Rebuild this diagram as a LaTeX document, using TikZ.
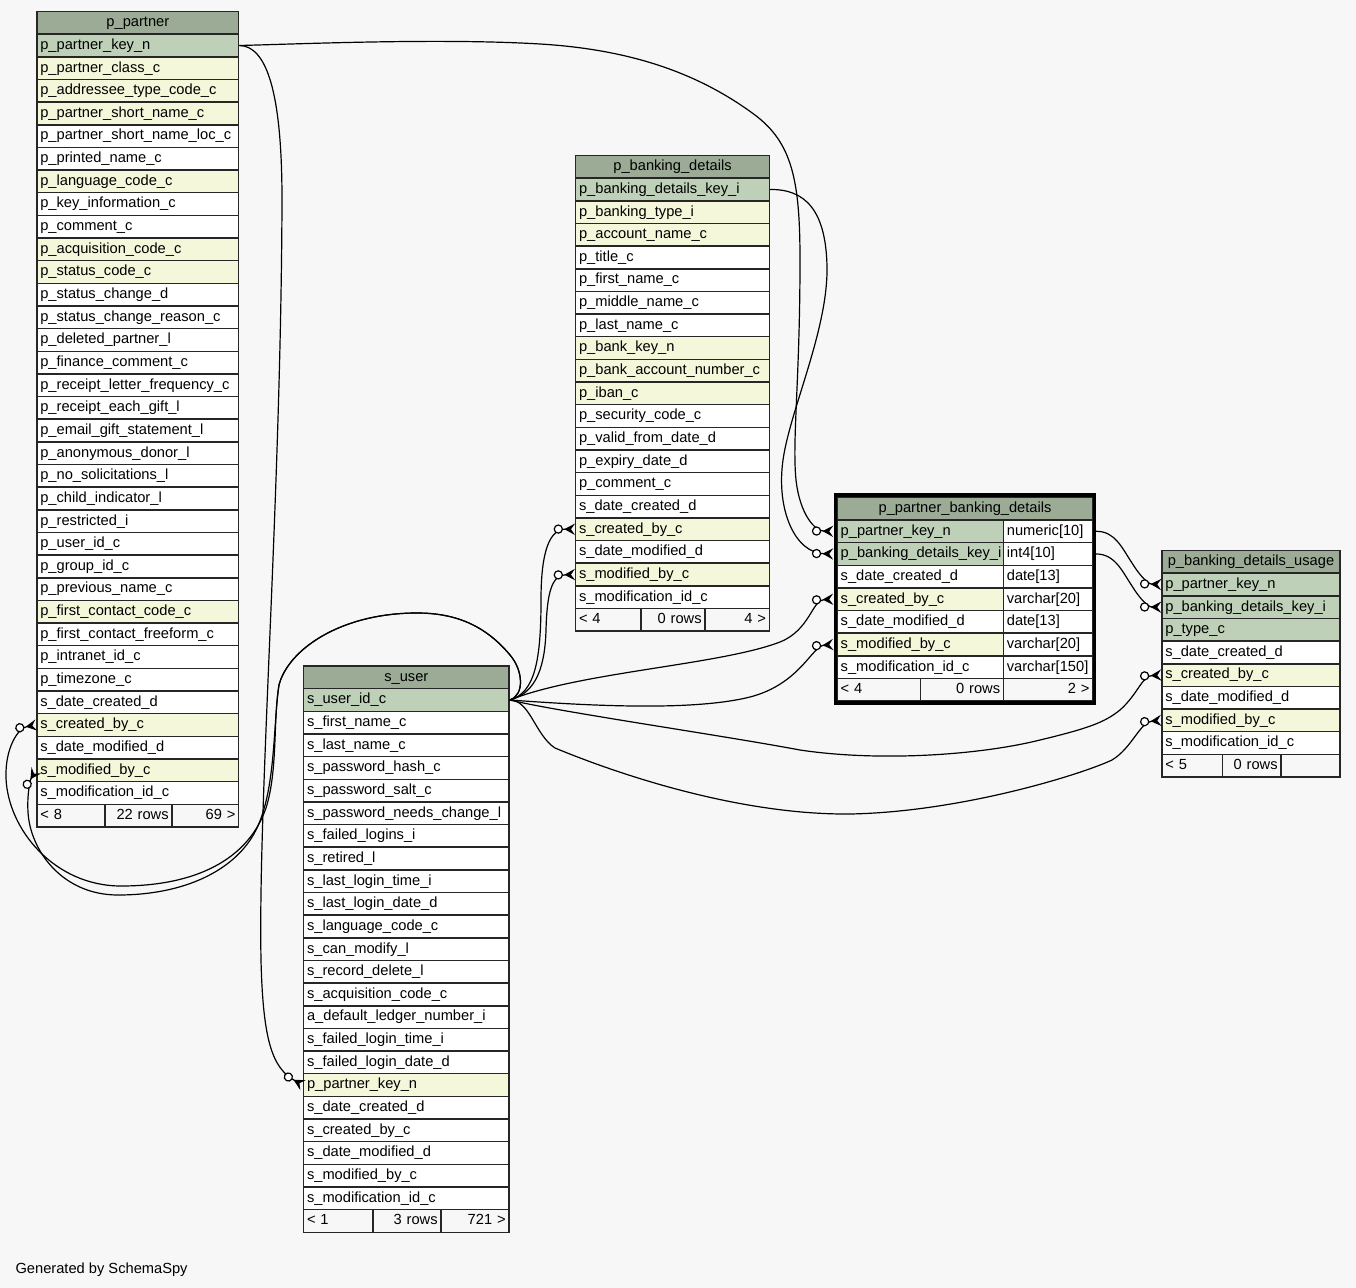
\documentclass[tikz,border=0pt]{standalone}
\usepackage{fontspec}
\setmainfont{Liberation Sans}
\usetikzlibrary{arrows.meta}
\definecolor{bgc}{HTML}{F7F7F7}
\definecolor{hdrc}{HTML}{9BAB96}
\definecolor{keyc}{HTML}{BED1B8}
\definecolor{fkc}{HTML}{F4F7DA}
\definecolor{ftc}{HTML}{F7F7F7}
\tikzset{
  cellbase/.style={draw=black!85, line width=1.1pt, rectangle, inner xsep=2.5pt, inner ysep=0pt,
    minimum height=17pt, text height=8.2pt, text depth=2.4pt, font=\fontsize{11}{13}\selectfont},
  cell/.style={cellbase, align=left},
  hdr/.style={cellbase, fill=hdrc, align=center},
  ftl/.style={cellbase, fill=ftc, align=left},
  ftr/.style={cellbase, fill=ftc, align=right},
  fk/.style={draw=black, line width=0.9pt,
    -{Circle[fill=white,length=7pt,sep=1pt]Stealth[reversed,length=8pt,width=8.5pt,inset=3pt]}},
  thick frame/.style={draw=black, line width=2.6pt},
}
% rows: #1 prefix, #2 left, #3 right, #4 y of first row, #5 list name/text/colour
\newcommand\mkrows[5]{%
  \pgfmathsetmacro\mycx{(#2+#3)/2}%
  \pgfmathsetmacro\mytw{(#3-#2)*0.75-5}%
  \foreach \nm/\txt/\col [count=\i from 0] in {#5} {%
    \node[cell, fill=\col, text width=\mytw pt] (#1-\nm) at (\mycx, #4+22.65*\i) {\txt};
  }%
}
% header: #1 prefix, #2 left, #3 right, #4 y, #5 title
\newcommand\mkhead[5]{%
  \pgfmathsetmacro\mycx{(#2+#3)/2}%
  \pgfmathsetmacro\mytw{(#3-#2)*0.75-5}%
  \node[hdr, text width=\mytw pt] (#1-head) at (\mycx,#4) {#5};%
}
% footer: #1 prefix, #2..#5 x borders, #6 y, #7 #8 #9 texts
\newcommand\mkfoot[9]{%
  \pgfmathsetmacro\fxa{(#2+#3)/2}\pgfmathsetmacro\fwa{(#3-#2)*0.75-5}%
  \pgfmathsetmacro\fxb{(#3+#4)/2}\pgfmathsetmacro\fwb{(#4-#3)*0.75-5}%
  \pgfmathsetmacro\fxc{(#4+#5)/2}\pgfmathsetmacro\fwc{(#5-#4)*0.75-5}%
  \node[ftl, text width=\fwa pt] (#1-fa) at (\fxa,#6) {#7};%
  \node[ftr, text width=\fwb pt] (#1-fb) at (\fxb,#6) {#8};%
  \node[ftr, text width=\fwc pt] (#1-fc) at (\fxc,#6) {#9};%
}
\begin{document}
\begin{tikzpicture}[x=0.75pt,y=-0.75pt]
\fill[bgc] (0,0) rectangle (1356,1288);
\useasboundingbox (0,0) rectangle (1356,1288);

% ---------------- p_partner
\mkhead{pp}{37}{238.7}{22.85}{p\_partner}
\mkrows{pp}{37}{238.7}{45.5}{%
 pkey/p\_partner\_key\_n/keyc,
 class/p\_partner\_class\_c/fkc,
 addr/p\_addressee\_type\_code\_c/fkc,
 short/p\_partner\_short\_name\_c/fkc,
 shortloc/p\_partner\_short\_name\_loc\_c/white,
 printed/p\_printed\_name\_c/white,
 lang/p\_language\_code\_c/fkc,
 keyinfo/p\_key\_information\_c/white,
 comment/p\_comment\_c/white,
 acq/p\_acquisition\_code\_c/fkc,
 status/p\_status\_code\_c/fkc,
 statusd/p\_status\_change\_d/white,
 reason/p\_status\_change\_reason\_c/white,
 deleted/p\_deleted\_partner\_l/white,
 finance/p\_finance\_comment\_c/white,
 freq/p\_receipt\_letter\_frequency\_c/white,
 each/p\_receipt\_each\_gift\_l/white,
 email/p\_email\_gift\_statement\_l/white,
 anon/p\_anonymous\_donor\_l/white,
 nosol/p\_no\_solicitations\_l/white,
 child/p\_child\_indicator\_l/white,
 restr/p\_restricted\_i/white,
 userid/p\_user\_id\_c/white,
 group/p\_group\_id\_c/white,
 prev/p\_previous\_name\_c/white,
 fcc/p\_first\_contact\_code\_c/fkc,
 fcf/p\_first\_contact\_freeform\_c/white,
 intranet/p\_intranet\_id\_c/white,
 tz/p\_timezone\_c/white,
 dc/s\_date\_created\_d/white,
 cb/s\_created\_by\_c/fkc,
 dm/s\_date\_modified\_d/white,
 mb/s\_modified\_by\_c/fkc,
 mid/s\_modification\_id\_c/white}
\mkfoot{pp}{37}{105}{172}{238.7}{815.6}{< 8}{22 rows}{69 >}

% ---------------- p_banking_details
\mkhead{pb}{575.7}{769.3}{166.85}{p\_banking\_details}
\mkrows{pb}{575.7}{769.3}{189.5}{%
 key/p\_banking\_details\_key\_i/keyc,
 type/p\_banking\_type\_i/fkc,
 acct/p\_account\_name\_c/fkc,
 title/p\_title\_c/white,
 first/p\_first\_name\_c/white,
 middle/p\_middle\_name\_c/white,
 last/p\_last\_name\_c/white,
 bank/p\_bank\_key\_n/fkc,
 bankacct/p\_bank\_account\_number\_c/fkc,
 iban/p\_iban\_c/fkc,
 sec/p\_security\_code\_c/white,
 valid/p\_valid\_from\_date\_d/white,
 exp/p\_expiry\_date\_d/white,
 comment/p\_comment\_c/white,
 dc/s\_date\_created\_d/white,
 cb/s\_created\_by\_c/fkc,
 dm/s\_date\_modified\_d/white,
 mb/s\_modified\_by\_c/fkc,
 mid/s\_modification\_id\_c/white}
\mkfoot{pb}{575.7}{641}{705}{769.3}{619.85}{< 4}{0 rows}{4 >}

% ---------------- s_user
\mkhead{su}{303.7}{509}{677.35}{s\_user}
\mkrows{su}{303.7}{509}{700}{%
 id/s\_user\_id\_c/keyc,
 first/s\_first\_name\_c/white,
 last/s\_last\_name\_c/white,
 hash/s\_password\_hash\_c/white,
 salt/s\_password\_salt\_c/white,
 pnc/s\_password\_needs\_change\_l/white,
 fl/s\_failed\_logins\_i/white,
 ret/s\_retired\_l/white,
 llt/s\_last\_login\_time\_i/white,
 lld/s\_last\_login\_date\_d/white,
 lang/s\_language\_code\_c/white,
 can/s\_can\_modify\_l/white,
 rec/s\_record\_delete\_l/white,
 acq/s\_acquisition\_code\_c/white,
 ledger/a\_default\_ledger\_number\_i/white,
 flt/s\_failed\_login\_time\_i/white,
 fld/s\_failed\_login\_date\_d/white,
 pkey/p\_partner\_key\_n/fkc,
 dc/s\_date\_created\_d/white,
 cb/s\_created\_by\_c/white,
 dm/s\_date\_modified\_d/white,
 mb/s\_modified\_by\_c/white,
 mid/s\_modification\_id\_c/white}
\mkfoot{su}{303.7}{373}{441}{509}{1220.95}{< 1}{3 rows}{721 >}

% ---------------- p_partner_banking_details
\mkhead{pd}{837.4}{1092.7}{508.65}{p\_partner\_banking\_details}
\mkrows{pd}{837.4}{1003.5}{531.3}{%
 pkey/p\_partner\_key\_n/keyc,
 bkey/p\_banking\_details\_key\_i/keyc,
 dc/s\_date\_created\_d/white,
 cb/s\_created\_by\_c/fkc,
 dm/s\_date\_modified\_d/white,
 mb/s\_modified\_by\_c/fkc,
 mid/s\_modification\_id\_c/white}
\mkrows{pdt}{1003.5}{1092.7}{531.3}{%
 pkey/numeric[10]/white,
 bkey/int4[10]/white,
 dc/date[13]/white,
 cb/varchar[20]/white,
 dm/date[13]/white,
 mb/varchar[20]/white,
 mid/varchar[150]/white}
\mkfoot{pd}{837.4}{920.6}{1003.5}{1092.7}{689.85}{< 4}{0 rows}{2 >}
\draw[thick frame] (835.6,495.2) rectangle (1094.3,703);

% ---------------- p_banking_details_usage
\mkhead{pu}{1162}{1340}{561.85}{p\_banking\_details\_usage}
\mkrows{pu}{1162}{1340}{584.5}{%
 pkey/p\_partner\_key\_n/keyc,
 bkey/p\_banking\_details\_key\_i/keyc,
 type/p\_type\_c/keyc,
 dc/s\_date\_created\_d/white,
 cb/s\_created\_by\_c/fkc,
 dm/s\_date\_modified\_d/white,
 mb/s\_modified\_by\_c/fkc,
 mid/s\_modification\_id\_c/white}
\mkfoot{pu}{1162}{1222.6}{1281}{1340}{765.7}{< 5}{0 rows}{}

% ---------------- connectors
% p_partner -> p_partner_banking_details
\draw[fk] (pp-pkey.east) .. controls (300,44) and (440,38) .. (540,44)
  .. controls (640,50) and (705,78) .. (755,115)
  .. controls (792,143) and (800,180) .. (800,260)
  .. controls (800,380) and (792,440) .. (796,480)
  .. controls (800,515) and (815,531) .. ([xshift=-2.6pt]pd-pkey.west);
% p_banking_details -> p_partner_banking_details
\draw[fk] (pb-key.east) .. controls (805,189) and (826,210) .. (827,267)
  .. controls (828,330) and (790,410) .. (783,460)
  .. controls (776,510) and (795,553) .. ([xshift=-2.6pt]pd-bkey.west);
% p_partner_banking_details -> p_banking_details_usage
\draw[fk] ([xshift=1.9pt]pdt-pkey.east) .. controls (1115,531) and (1122,548) .. (1132,563)
  .. controls (1140,576) and (1148,584) .. (pu-pkey.west);
\draw[fk] ([xshift=1.9pt]pdt-bkey.east) .. controls (1115,554) and (1122,571) .. (1132,586)
  .. controls (1140,599) and (1148,607) .. (pu-bkey.west);
% s_user -> p_banking_details
\draw[fk] (su-id.east) .. controls (535,693) and (541,660) .. (541,600)
  .. controls (541,550) and (550,529) .. (pb-cb.west);
\draw[fk] (su-id.east) .. controls (537,693) and (545,665) .. (546,630)
  .. controls (547,592) and (552,575) .. (pb-mb.west);
% s_user -> p_partner_banking_details
\draw[fk] (su-id.east) .. controls (580,672) and (720,665) .. (780,642)
  .. controls (810,630) and (812,600) .. ([xshift=-2.6pt]pd-cb.west);
\draw[fk] (su-id.east) .. controls (580,705) and (690,712) .. (750,697)
  .. controls (800,684) and (812,646) .. ([xshift=-2.6pt]pd-mb.west);
% s_user -> p_banking_details_usage
\draw[fk] (su-id.east) .. controls (560,712) and (720,735) .. (800,750)
  .. controls (880,762) and (980,755) .. (1040,740)
  .. controls (1090,728) and (1105,722) .. (1120,710)
  .. controls (1138,694) and (1142,676) .. (pu-cb.west);
\draw[fk] (su-id.east) .. controls (530,700) and (535,735) .. (555,748)
  .. controls (620,775) and (740,815) .. (850,814)
  .. controls (960,812) and (1080,775) .. (1112,760)
  .. controls (1132,748) and (1140,722) .. (pu-mb.west);
% s_user -> p_partner
\draw[fk] (su-id.east) .. controls (525,695) and (523,670) .. (510,655)
  .. controls (485,625) and (455,613) .. (417,613)
  .. controls (340,613) and (288,650) .. (279,685)
  .. controls (273,720) and (278,770) .. (266,808)
  .. controls (248,860) and (195,886) .. (121,886)
  .. controls (55,886) and (8,830) .. (6,778)
  .. controls (5,748) and (18,728) .. (pp-cb.west);
\draw[fk] (su-id.east) .. controls (525,695) and (523,670) .. (510,655)
  .. controls (485,625) and (455,613) .. (417,613)
  .. controls (340,613) and (288,650) .. (279,685)
  .. controls (273,725) and (276,790) .. (256,830)
  .. controls (236,870) and (185,895) .. (118,895)
  .. controls (62,895) and (30,850) .. (28,812)
  .. controls (27,795) and (30,780) .. (pp-mb.west);
% p_partner -> s_user
\draw[fk] (pp-pkey.east) .. controls (266,46) and (282,90) .. (282,200)
  .. controls (281,500) and (258,800) .. (261,960)
  .. controls (263,1040) and (272,1068) .. (su-pkey.west);

\node[anchor=base west, inner sep=0pt, font=\fontsize{11}{13}\selectfont] (gen) at (15.3,1273) {Generated by SchemaSpy};
\end{tikzpicture}
\end{document}
